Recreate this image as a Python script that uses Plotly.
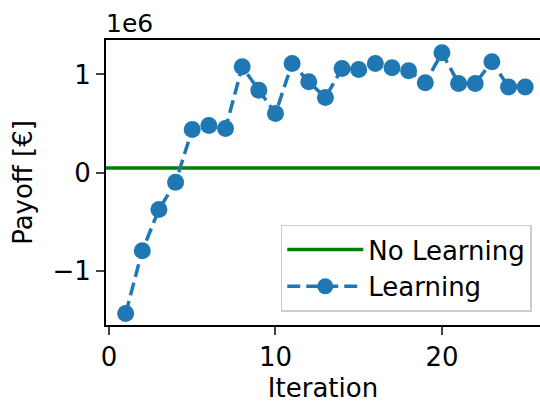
import plotly.graph_objects as go

# ---- data ----
iterations = list(range(1, 26))
learning_payoff = [
    -1.433e6, -0.793e6, -0.374e6, -0.096e6, 0.439e6,
    0.480e6, 0.449e6, 1.078e6, 0.840e6, 0.602e6,
    1.112e6, 0.925e6, 0.765e6, 1.061e6, 1.051e6,
    1.112e6, 1.067e6, 1.037e6, 0.914e6, 1.220e6,
    0.908e6, 0.908e6, 1.129e6, 0.873e6, 0.873e6,
]
no_learning_payoff = 0.047e6

x_ticks = [0, 10, 20]
y_tick_vals = [-1e6, 0, 1e6]
y_tick_text = ["\u22121", "0", "1"]

X_RANGE = [-0.18, 25.89]
Y_RANGE = [-1.549e6, 1.35e6]

BLUE = "#1f77b4"
GREEN = "#008000"
FONT = "DejaVu Sans"
FS = 26

fig = go.Figure()
fig.add_trace(go.Scatter(
    x=X_RANGE, y=[no_learning_payoff, no_learning_payoff],
    mode="lines", name="No Learning",
    line=dict(color=GREEN, width=3.5),
))
fig.add_trace(go.Scatter(
    x=iterations, y=learning_payoff,
    mode="lines+markers", name="Learning",
    line=dict(color=BLUE, width=3.5, dash="13px,6px"),
    marker=dict(color=BLUE, size=17, line=dict(width=0)),
))

fig.update_layout(
    width=540, height=403,
    margin=dict(l=106, r=0, t=40, b=78),
    paper_bgcolor="white", plot_bgcolor="white",
    font=dict(family=FONT, size=FS, color="black"),
    showlegend=True,
    legend=dict(
        x=0.981, y=0.047, xanchor="right", yanchor="bottom",
        bgcolor="rgba(255,255,255,0.8)", bordercolor="#cccccc", borderwidth=1.5,
        font=dict(family=FONT, size=FS),
        tracegroupgap=0, itemwidth=76,
    ),
    annotations=[dict(
        text="1e6", xref="paper", yref="paper", x=0, y=1,
        xanchor="left", yanchor="bottom", showarrow=False,
        font=dict(family=FONT, size=FS - 1), xshift=-2, yshift=0,
    )],
)

fig.update_xaxes(
    range=X_RANGE, tickvals=x_ticks, ticks="outside", ticklen=8, tickwidth=2,
    showline=True, linecolor="black", linewidth=2, mirror=True,
    showgrid=False, zeroline=False,
    title=dict(text="Iteration", font=dict(family=FONT, size=FS), standoff=11),
    tickfont=dict(family=FONT, size=FS),
)
fig.update_yaxes(
    range=Y_RANGE, tickvals=y_tick_vals, ticktext=y_tick_text,
    ticks="outside", ticklen=8, tickwidth=2,
    showline=True, linecolor="black", linewidth=2, mirror=False,
    showgrid=False, zeroline=False,
    title=dict(text="Payoff [€]", font=dict(family=FONT, size=FS), standoff=12),
    tickfont=dict(family=FONT, size=FS),
)

fig.write_html("out.html")
